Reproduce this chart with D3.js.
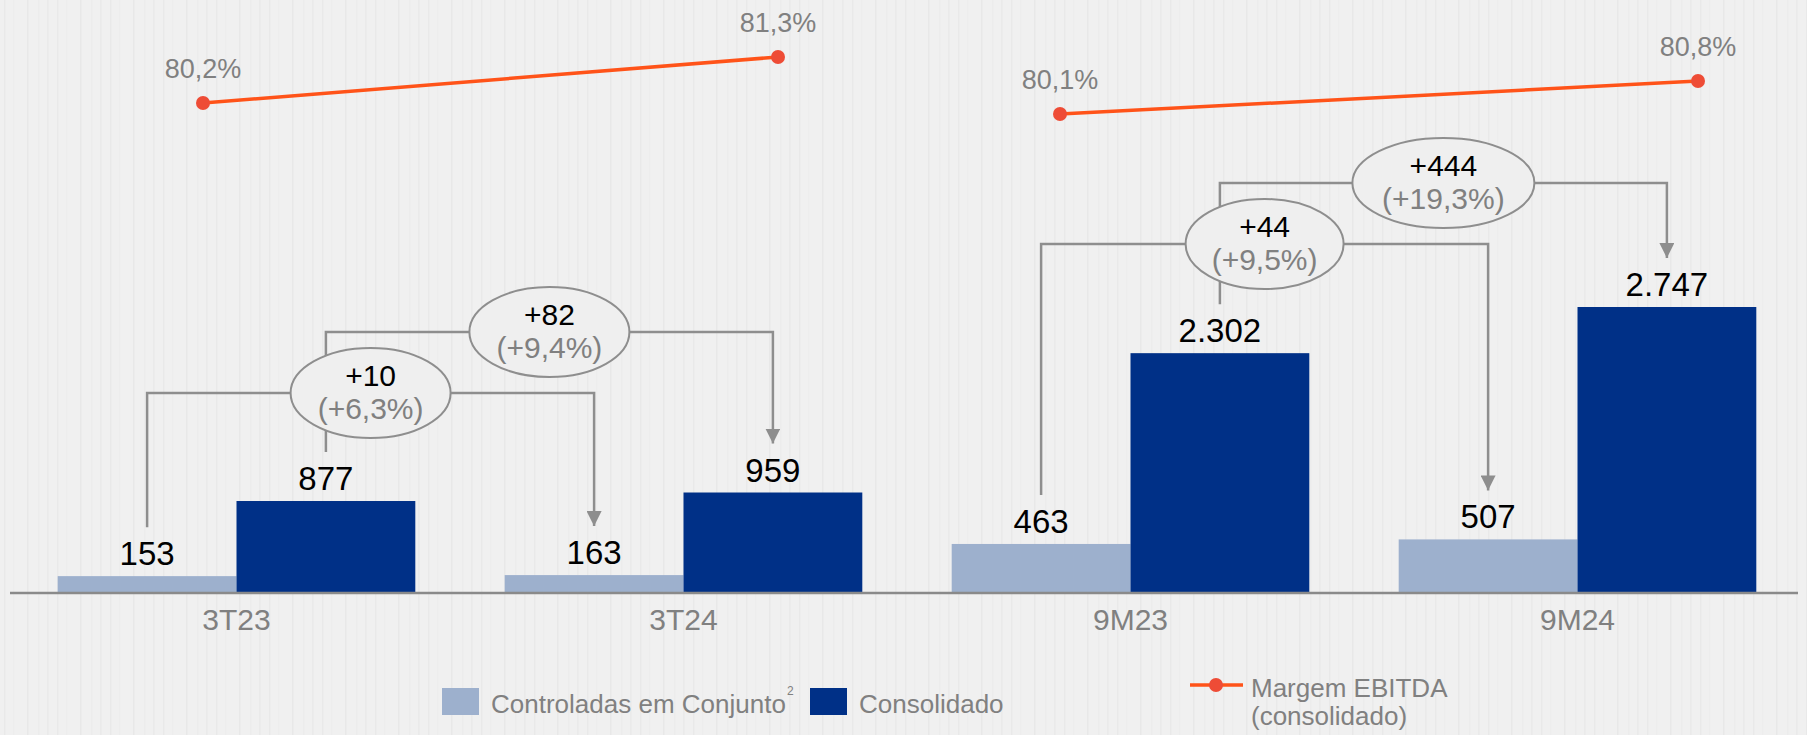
<!DOCTYPE html>
<html>
<head>
<meta charset="utf-8">
<script src="https://cdn.jsdelivr.net/npm/d3@7"></script>
<style>
    html, body { margin: 0; padding: 0; background: #efefef; }
    svg { display: block; font-family: "Liberation Sans", Arial, sans-serif; }
</style>
</head>
<body>
<svg id="chart" width="1807" height="735"></svg>
<script>

// data
let categories = ["3T23", "3T24", "9M23", "9M24"]
let controladas = [153, 163, 463, 507]
let consolidado = [877, 959, 2302, 2747]
let margem = [80.2, 81.3, 80.1, 80.8]
let margem_labels = ["80,2%", "81,3%", "80,1%", "80,8%"]

// bracket annotations: from bar -> to bar
let ann_from = [["3T23", "ctrl"], ["3T23", "cons"], ["9M23", "ctrl"], ["9M23", "cons"]]
let ann_to = [["3T24", "ctrl"], ["3T24", "cons"], ["9M24", "ctrl"], ["9M24", "cons"]]
let ann_delta = ["+10", "+82", "+44", "+444"]
let ann_pct = ["(+6,3%)", "(+9,4%)", "(+9,5%)", "(+19,3%)"]

let series_keys = ["ctrl", "cons"]
let series_names = ["Controladas em Conjunto", "Consolidado"]
let series_colors = { ctrl: "#9db0cd", cons: "#003087" }

// layout
let width = 1807
let baseline = 592
let bracket_levels = [393, 332, 244, 183]
let ann_rx = [80, 80, 79, 91]
let grey = "#808080"
let line_grey = "#8e8e8e"

let svg = d3.select('#chart')

// faint vertical streaks like the wood background
let defs = svg.append('defs')
let pat = defs.append('pattern').attr('id', 'streaks')
    .attr('patternUnits', 'userSpaceOnUse').attr('width', 53).attr('height', 735)
pat.append('rect').attr('width', 53).attr('height', 735).attr('fill', '#f0f0f0')
let streak_x = [4, 13, 27, 38, 47]
let streak_o = [0.35, 0.15, 0.4, 0.2, 0.3]
streak_x.forEach((sx, i) => {
    pat.append('rect').attr('x', sx).attr('width', 1.5).attr('height', 735)
        .attr('fill', '#dddddd').attr('opacity', streak_o[i])
})
svg.append('rect').attr('width', 1807).attr('height', 735).attr('fill', 'url(#streaks)')

let x = d3.scaleBand().domain(categories).range([13, 1801]).paddingInner(0.2).paddingOuter(0.1)
let xs = d3.scaleBand().domain(series_keys).range([0, x.bandwidth()])
let y = d3.scaleLinear().domain([0, 2747]).range([baseline, 307])

function valueOf(cat, key) {
    let i = categories.indexOf(cat)
    return key == "ctrl" ? controladas[i] : consolidado[i]
}
function barCenter(cat, key) {
    return x(cat) + xs(key) + xs.bandwidth() / 2
}

// bars
let rows = categories.map((c, i) => ({ cat: c, ctrl: controladas[i], cons: consolidado[i] }))

let groups = svg.append('g').attr('class', 'bars')
    .selectAll('g').data(rows).join('g')
    .attr('transform', (d) => `translate(${x(d.cat)},0)`)

groups.selectAll('rect')
    .data((d) => series_keys.map((k) => ({ key: k, value: d[k] })))
    .join('rect')
    .attr('x', (d) => xs(d.key))
    .attr('width', xs.bandwidth())
    .attr('y', (d) => y(d.value))
    .attr('height', (d) => baseline - y(d.value))
    .attr('fill', (d) => series_colors[d.key])

groups.selectAll('text')
    .data((d) => series_keys.map((k) => ({ key: k, value: d[k] })))
    .join('text')
    .attr('x', (d) => xs(d.key) + xs.bandwidth() / 2)
    .attr('y', (d) => y(d.value) - 11)
    .attr('text-anchor', 'middle')
    .attr('font-size', 33)
    .attr('fill', '#000')
    .text((d) => d3.format(",")(d.value).replace(/,/g, "."))

// axis
let axis = svg.append('g').attr('transform', `translate(0,${baseline})`)
    .call(d3.axisBottom(x).tickSize(0).tickPadding(14))
axis.select('.domain').remove()
axis.append('line').attr('x1', 10).attr('x2', 1798).attr('y1', 1).attr('y2', 1)
    .attr('stroke', '#8a8a8a').attr('stroke-width', 2.5)
axis.selectAll('.tick text')
    .attr('font-size', 30).attr('fill', grey)
    .attr('font-family', '"Liberation Sans", Arial, sans-serif')
    .attr('dy', '1em').attr('y', 8)

// brackets
defs.append('marker').attr('id', 'arrow')
    .attr('viewBox', '0 0 10 10').attr('refX', 10).attr('refY', 5)
    .attr('markerWidth', 15).attr('markerHeight', 15)
    .attr('markerUnits', 'userSpaceOnUse').attr('orient', 'auto')
    .append('path').attr('d', 'M0,0 L10,5 L0,10 Z').attr('fill', line_grey)

let brackets = svg.append('g').attr('class', 'brackets')

for (let i = 0; i < ann_delta.length; i++) {
    let f = ann_from[i], t = ann_to[i]
    let x1 = barCenter(f[0], f[1]), x2 = barCenter(t[0], t[1])
    let y1 = y(valueOf(f[0], f[1])) - 49
    let y2 = y(valueOf(t[0], t[1])) - 49
    let level = bracket_levels[i]

    brackets.append('path')
        .attr('d', `M${x1},${y1} V${level} H${x2} V${y2}`)
        .attr('fill', 'none').attr('stroke', line_grey).attr('stroke-width', 2.5)
        .attr('marker-end', 'url(#arrow)')
}

for (let i = 0; i < ann_delta.length; i++) {
    let f = ann_from[i], t = ann_to[i]
    let cx = (barCenter(f[0], f[1]) + barCenter(t[0], t[1])) / 2
    let cy = bracket_levels[i]
    let g = brackets.append('g')
    g.append('ellipse').attr('cx', cx).attr('cy', cy).attr('rx', ann_rx[i]).attr('ry', 45)
        .attr('fill', '#efefef').attr('stroke', line_grey).attr('stroke-width', 2)
    g.append('text').attr('x', cx).attr('y', cy - 7).attr('text-anchor', 'middle')
        .attr('font-size', 30).attr('fill', '#000').text(ann_delta[i])
    g.append('text').attr('x', cx).attr('y', cy + 26).attr('text-anchor', 'middle')
        .attr('font-size', 30).attr('fill', grey).text(ann_pct[i])
}

// margem EBITDA lines (two separate panels)
let panels = [
    { idx: [0, 1], x: d3.scalePoint().domain([categories[0], categories[1]]).range([203, 778]),
      y: d3.scaleLinear().domain([80.2, 81.3]).range([103, 57]) },
    { idx: [2, 3], x: d3.scalePoint().domain([categories[2], categories[3]]).range([1060, 1698]),
      y: d3.scaleLinear().domain([80.1, 80.8]).range([114, 81]) }
]

let line_color = "#ff5319"
let dot_color = "#ee4c36"

for (let p of panels) {
    let pts = p.idx.map((i) => ({ cat: categories[i], v: margem[i], label: margem_labels[i] }))
    let line = d3.line().x((d) => p.x(d.cat)).y((d) => p.y(d.v))
    let g = svg.append('g').attr('class', 'margem')
    g.append('path').attr('d', line(pts)).attr('fill', 'none')
        .attr('stroke', line_color).attr('stroke-width', 3.5)
    g.selectAll('circle').data(pts).join('circle')
        .attr('cx', (d) => p.x(d.cat)).attr('cy', (d) => p.y(d.v)).attr('r', 7)
        .attr('fill', dot_color)
    g.selectAll('text').data(pts).join('text')
        .attr('x', (d) => p.x(d.cat)).attr('y', (d) => p.y(d.v) - 25)
        .attr('text-anchor', 'middle').attr('font-size', 27).attr('fill', grey)
        .text((d) => d.label)
}

// legend
let legend = svg.append('g').attr('class', 'legend')
let leg_x = [442, 810]
series_keys.forEach((k, i) => {
    legend.append('rect').attr('x', leg_x[i]).attr('y', 688).attr('width', 37).attr('height', 27)
        .attr('fill', series_colors[k])
    legend.append('text').attr('x', leg_x[i] + 49).attr('y', 713)
        .attr('font-size', 26).attr('fill', grey).text(series_names[i])
})
legend.append('text').attr('x', 787).attr('y', 695).attr('font-size', 12).attr('fill', grey).text("2")

legend.append('line').attr('x1', 1190).attr('x2', 1243).attr('y1', 685).attr('y2', 685)
    .attr('stroke', line_color).attr('stroke-width', 3.5)
legend.append('circle').attr('cx', 1216).attr('cy', 685).attr('r', 7).attr('fill', dot_color)
legend.append('text').attr('x', 1251).attr('y', 697).attr('font-size', 26).attr('fill', grey).text("Margem EBITDA")
legend.append('text').attr('x', 1251).attr('y', 725).attr('font-size', 26).attr('fill', grey).text("(consolidado)")

</script>
</body>
</html>
